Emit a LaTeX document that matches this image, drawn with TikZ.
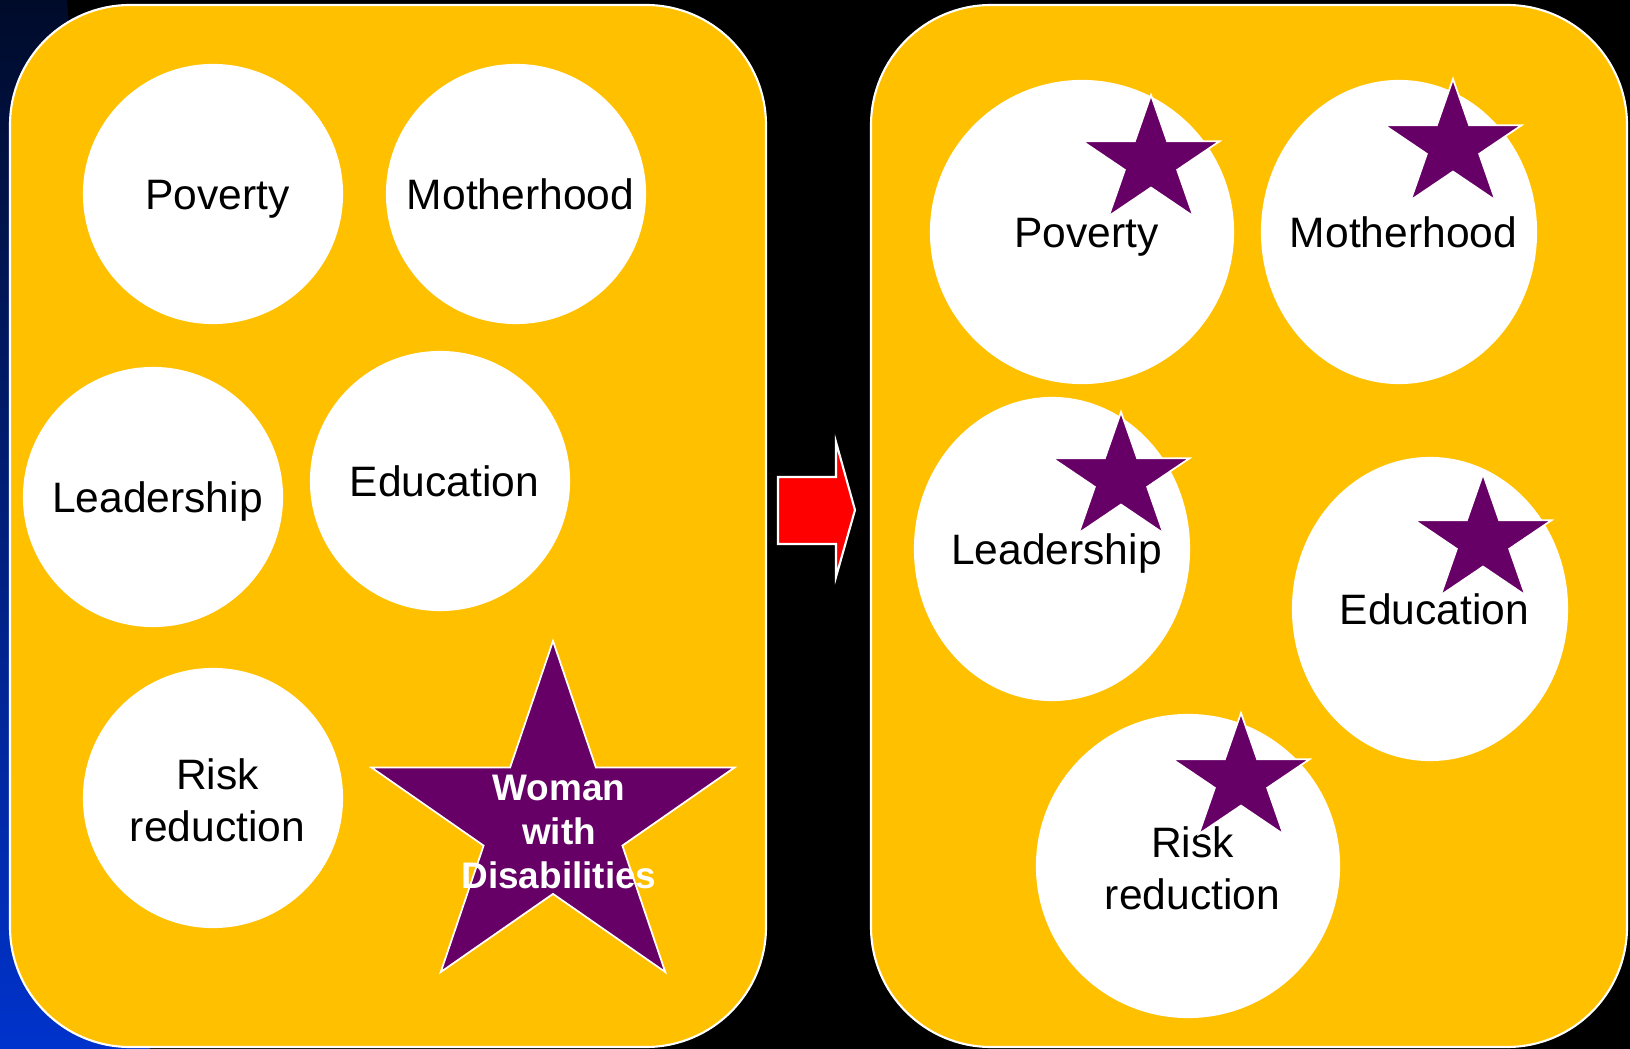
\documentclass[tikz,border=0pt]{standalone}
\usepackage{fontspec}
\setmainfont{Liberation Sans}
\usetikzlibrary{shapes.geometric}

\definecolor{panelyellow}{HTML}{FFC000}
\definecolor{starpurple}{HTML}{660066}
\definecolor{slideblue}{HTML}{0033CC}
\definecolor{slidenavy}{HTML}{000B2A}

\tikzset{
  panel/.style={fill=panelyellow, draw=white, line width=.6pt, rounded corners=1.2cm},
  bubble/.style={circle, fill=white, inner sep=0pt, minimum size=2.6cm},
  oval/.style={ellipse, fill=white, inner sep=0pt, minimum width=2.76cm, minimum height=3.04cm},
  caption/.style={align=center, text height=0.305cm, text depth=0pt, xshift=0.045cm,
    font=\fontsize{12.1}{14.8}\selectfont},
  twoline/.style={align=center, xshift=0.045cm, yshift=-0.02cm,
    font=\fontsize{12.1}{14.8}\selectfont},
  starshape/.style={fill=starpurple, draw=white, line width=.5pt, line join=miter},
  startext/.style={text=white, align=center, font=\fontsize{10.5}{12.5}\bfseries\selectfont},
}

% star: centre x, centre y, x radius, y radius
\newcommand{\drawstar}[4]{%
  \filldraw[starshape, shift={(#1,#2)}] (-90:#3 and #4)
    \foreach \k/\f in {1/.382,2/1,3/.382,4/1,5/.382,6/1,7/.382,8/1,9/.382}{
      -- ({-90+36*\k}:{\f*#3} and {\f*#4}) } -- cycle;}

\begin{document}
\begin{tikzpicture}[x=0.01cm, y=-0.01cm]
\useasboundingbox (0,0) rectangle (1630,1049);
\fill[black] (0,0) rectangle (1630,1049);
\shade[top color=slidenavy, bottom color=slideblue] (0,0) -- (67,0) -- (150,1049) -- (0,1049) -- cycle;

% before
\draw[panel] (10,5) rectangle (766,1047);
\node[bubble, label={[caption]center:Poverty}] (lpoverty) at (213,194) {};
\node[bubble, label={[caption]center:Motherhood}] (lmother) at (516,194) {};
\node[bubble, label={[caption]center:Leadership}] (llead) at (153,497) {};
\node[bubble, label={[caption]center:Education}] (ledu) at (440,481) {};
\node[bubble, label={[twoline]center:Risk\\reduction}] (lrisk) at (213,798) {};
\drawstar{553}{824}{191}{183}
\node[startext] (woman) at (559,832) {Woman\\with\\Disabilities};

% arrow
\filldraw[fill=red, draw=white, line width=.6pt] (778,477) -- (836,477) -- (836,442) -- (855,510)
  -- (836,577) -- (836,544) -- (778,544) -- cycle;

% after
\draw[panel] (871,5) rectangle (1627,1047);
\node[oval, minimum width=3.04cm, label={[caption]center:Poverty}] (rpoverty) at (1082,232) {};
\node[oval, label={[caption]center:Motherhood}] (rmother) at (1399,232) {};
\node[oval, label={[caption]center:Leadership}] (rlead) at (1052,549) {};
\node[oval, label={[caption]center:Education}] (redu) at (1430,609) {};
\node[oval, minimum width=3.04cm, label={[twoline]center:Risk\\reduction}] (rrisk) at (1188,866) {};
\drawstar{1151}{162}{72}{67}
\drawstar{1453}{146}{72}{67}
\drawstar{1121}{479}{72}{67}
\drawstar{1483}{541}{72}{67}
\drawstar{1241}{780}{72}{67}
\end{tikzpicture}
\end{document}
